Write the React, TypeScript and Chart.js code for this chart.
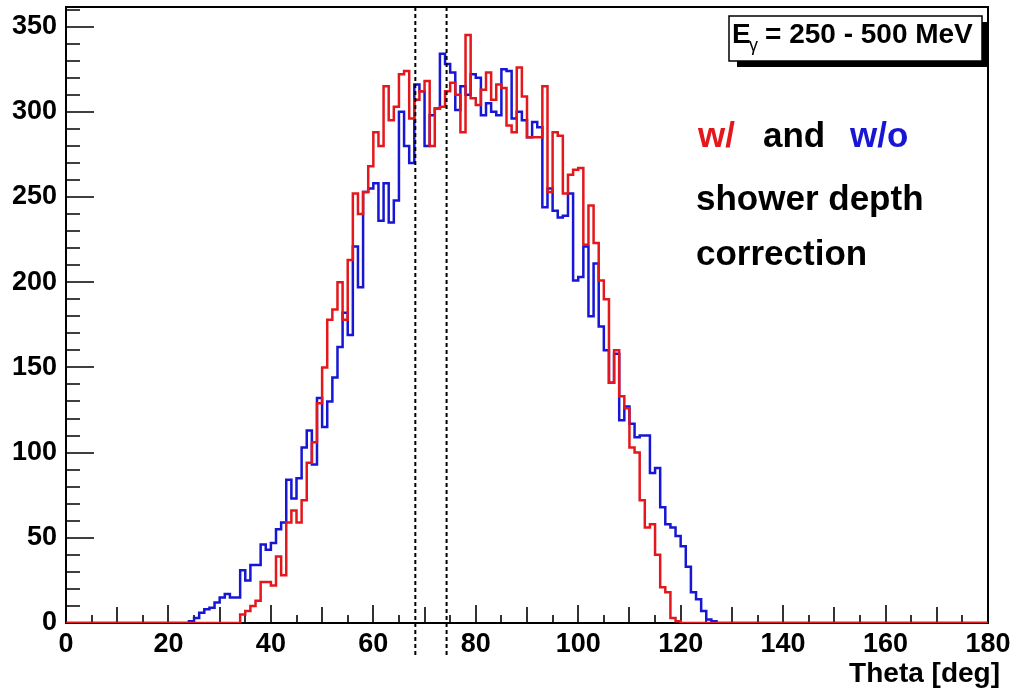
import React, { useEffect, useRef } from "react";
import { Chart, registerables } from "chart.js";

Chart.register(...registerables);

// ---------------- data ----------------
const thetaMin = 0;
const thetaMax = 180;
const countMax = 361.5;
const xTickValues = [0, 20, 40, 60, 80, 100, 120, 140, 160, 180];
const yTickValues = [0, 50, 100, 150, 200, 250, 300, 350];

// histogram "w/ shower depth correction" (red), 1-degree bins starting at bin 34
const withCorrStart = 34;
const withCorrCounts = [
  5, 7, 10, 13, 24, 24, 22, 39, 28, 59,
  66, 59, 72, 94, 106, 129, 150, 178, 184, 200,
  178, 213, 252, 240, 253, 268, 288, 280, 315, 295,
  303, 322, 324, 296, 307, 312, 318, 280, 302, 303,
  312, 317, 310, 288, 345, 308, 304, 313, 323, 307,
  316, 314, 292, 288, 326, 309, 285, 285, 285, 315,
  253, 288, 286, 252, 263, 266, 267, 222, 245, 223,
  201, 190, 141, 160, 133, 126, 103, 100, 72, 56,
  58, 40, 21, 18, 3, 1,
];

// histogram "w/o shower depth correction" (blue), 1-degree bins starting at bin 24
const withoutCorrStart = 24;
const withoutCorrCounts = [
  1, 3, 6, 8, 9, 12, 15, 17, 15, 15,
  31, 25, 34, 34, 46, 43, 47, 55, 59, 84,
  73, 85, 103, 113, 93, 132, 115, 130, 144, 162,
  182, 169, 221, 197, 253, 255, 258, 236, 258, 235,
  248, 300, 280, 270, 316, 312, 280, 298, 302, 334,
  328, 323, 301, 315, 310, 322, 320, 298, 305, 300,
  298, 325, 324, 296, 300, 295, 285, 294, 291, 244,
  255, 242, 238, 239, 252, 201, 203, 221, 180, 211,
  174, 160, 141, 158, 119, 127, 117, 109, 110, 110,
  88, 91, 68, 58, 56, 51, 45, 33, 18, 14,
  7, 2, 1,
];

// vertical dashed cut lines (deg)
const cutLines = [68.2, 74.3];

// ---------------- styles ----------------
const RED = "rgb(228,24,28)";
const BLUE = "rgb(22,22,212)";
const FONT = "'Liberation Sans', Arial, Helvetica, sans-serif";

function histPoints(start: number, counts: number[]) {
  const pts: { x: number; y: number }[] = [];
  for (let b = thetaMin; b < thetaMax; b++) {
    const i = b - start;
    const v = i >= 0 && i < counts.length ? counts[i] : 0;
    pts.push({ x: b, y: v });
  }
  pts.push({ x: thetaMax, y: pts[pts.length - 1].y });
  return pts;
}

const decorPlugin = {
  id: "rootDecor",
  beforeDatasetsDraw(chart: any) {
    const { ctx, chartArea: a, scales } = chart;
    const xs = scales.x;
    const ys = scales.y;
    ctx.save();
    ctx.strokeStyle = "#000";
    ctx.lineWidth = 2;
    ctx.strokeRect(a.left, a.top, a.right - a.left, a.bottom - a.top);
    ctx.lineWidth = 1.6;
    ctx.beginPath();
    for (let v = thetaMin; v <= thetaMax; v += 5) {
      const px = Math.round(xs.getPixelForValue(v));
      const len = v % 20 === 0 ? 18 : v % 10 === 0 ? 16 : 8;
      ctx.moveTo(px, a.bottom);
      ctx.lineTo(px, a.bottom - len);
    }
    for (let v = 0; v <= 360; v += 10) {
      const py = Math.round(ys.getPixelForValue(v));
      if (py < a.top) continue;
      const len = v % 50 === 0 ? 28 : 14;
      ctx.moveTo(a.left, py);
      ctx.lineTo(a.left + len, py);
    }
    ctx.stroke();
    ctx.restore();
  },
  afterDatasetsDraw(chart: any) {
    const { ctx, chartArea: a, scales } = chart;
    const xs = scales.x;
    ctx.save();
    // dashed cut lines
    ctx.strokeStyle = "#000";
    ctx.lineWidth = 2;
    ctx.setLineDash([4, 3]);
    for (const c of cutLines) {
      const px = xs.getPixelForValue(c);
      ctx.beginPath();
      ctx.moveTo(px, a.top);
      ctx.lineTo(px, 656);
      ctx.stroke();
    }
    ctx.setLineDash([]);

    // energy box with shadow
    const bx = 729, by = 16, bw = 253, bh = 45, sh = 6;
    ctx.fillStyle = "#000";
    ctx.fillRect(bx + 8, by + bh, bw - 2, sh);
    ctx.fillRect(bx + bw, by + 6, sh, bh + sh - 6);
    ctx.fillStyle = "#fff";
    ctx.fillRect(bx, by, bw, bh);
    ctx.strokeStyle = "#000";
    ctx.lineWidth = 1.5;
    ctx.strokeRect(bx, by, bw, bh);
    ctx.fillStyle = "#000";
    ctx.textBaseline = "alphabetic";
    ctx.textAlign = "left";
    ctx.font = `bold 28px ${FONT}`;
    ctx.fillText("E", 732, 43);
    ctx.font = `18px ${FONT}`;
    ctx.fillText("γ", 749, 51);
    ctx.font = `bold 28px ${FONT}`;
    ctx.fillText("= 250 - 500 MeV", 765, 43);

    // annotation
    ctx.font = `bold 35px ${FONT}`;
    ctx.fillStyle = RED;
    ctx.fillText("w/", 698, 147);
    ctx.fillStyle = "#000";
    ctx.fillText("and", 763, 147);
    ctx.fillStyle = BLUE;
    ctx.fillText("w/o", 850, 147);
    ctx.fillStyle = "#000";
    ctx.fillText("shower depth", 696, 210);
    ctx.fillText("correction", 696, 265);

    // x axis title
    ctx.font = `bold 28px ${FONT}`;
    ctx.textAlign = "right";
    ctx.fillText("Theta [deg]", 1000, 682);
    ctx.restore();
  },
};

export default function App() {
  const canvasRef = useRef<HTMLCanvasElement | null>(null);

  useEffect(() => {
    const canvas = canvasRef.current;
    if (!canvas) return;
    const chart = new Chart(canvas, {
      type: "line",
      data: {
        datasets: [
          {
            label: "w/ shower depth correction",
            data: histPoints(withCorrStart, withCorrCounts),
            borderColor: RED,
            borderWidth: 2.5,
            pointRadius: 0,
            fill: false,
            stepped: true,
            tension: 0,
            order: 0,
          },
          {
            label: "w/o shower depth correction",
            data: histPoints(withoutCorrStart, withoutCorrCounts),
            borderColor: BLUE,
            borderWidth: 2.5,
            pointRadius: 0,
            fill: false,
            stepped: true,
            tension: 0,
            order: 1,
          },
        ],
      },
      options: {
        responsive: false,
        animation: false,
        devicePixelRatio: 1,
        parsing: false,
        normalized: true,
        layout: { padding: { top: 7, right: 24, left: 0, bottom: 0 } },
        plugins: {
          legend: { display: false },
          tooltip: { enabled: false },
          title: { display: false },
        },
        scales: {
          x: {
            type: "linear",
            min: thetaMin,
            max: thetaMax,
            afterBuildTicks: (s: any) => {
              s.ticks = xTickValues.map((v) => ({ value: v }));
            },
            afterFit: (s: any) => {
              s.height = 70;
              s.paddingLeft = 0;
              s.paddingRight = 0;
            },
            ticks: {
              autoSkip: false,
              maxRotation: 0,
              color: "#000",
              padding: 5,
              font: { family: FONT, size: 27, weight: "bold" },
            },
            grid: { display: false, drawTicks: false },
            border: { display: false },
          },
          y: {
            type: "linear",
            min: 0,
            max: countMax,
            afterBuildTicks: (s: any) => {
              s.ticks = yTickValues.map((v) => ({ value: v }));
            },
            afterFit: (s: any) => {
              s.width = 66;
              s.paddingTop = 0;
              s.paddingBottom = 0;
            },
            ticks: {
              autoSkip: false,
              color: "#000",
              padding: 9,
              font: { family: FONT, size: 27, weight: "bold" },
            },
            grid: { display: false, drawTicks: false },
            border: { display: false },
          },
        },
      } as any,
      plugins: [decorPlugin],
    });
    return () => chart.destroy();
  }, []);

  return (
    <div style={{ position: "fixed", left: 0, top: 0, width: 1012, height: 693, background: "#fff" }}>
      <canvas ref={canvasRef} width={1012} height={693} style={{ width: 1012, height: 693, display: "block" }} />
    </div>
  );
}
